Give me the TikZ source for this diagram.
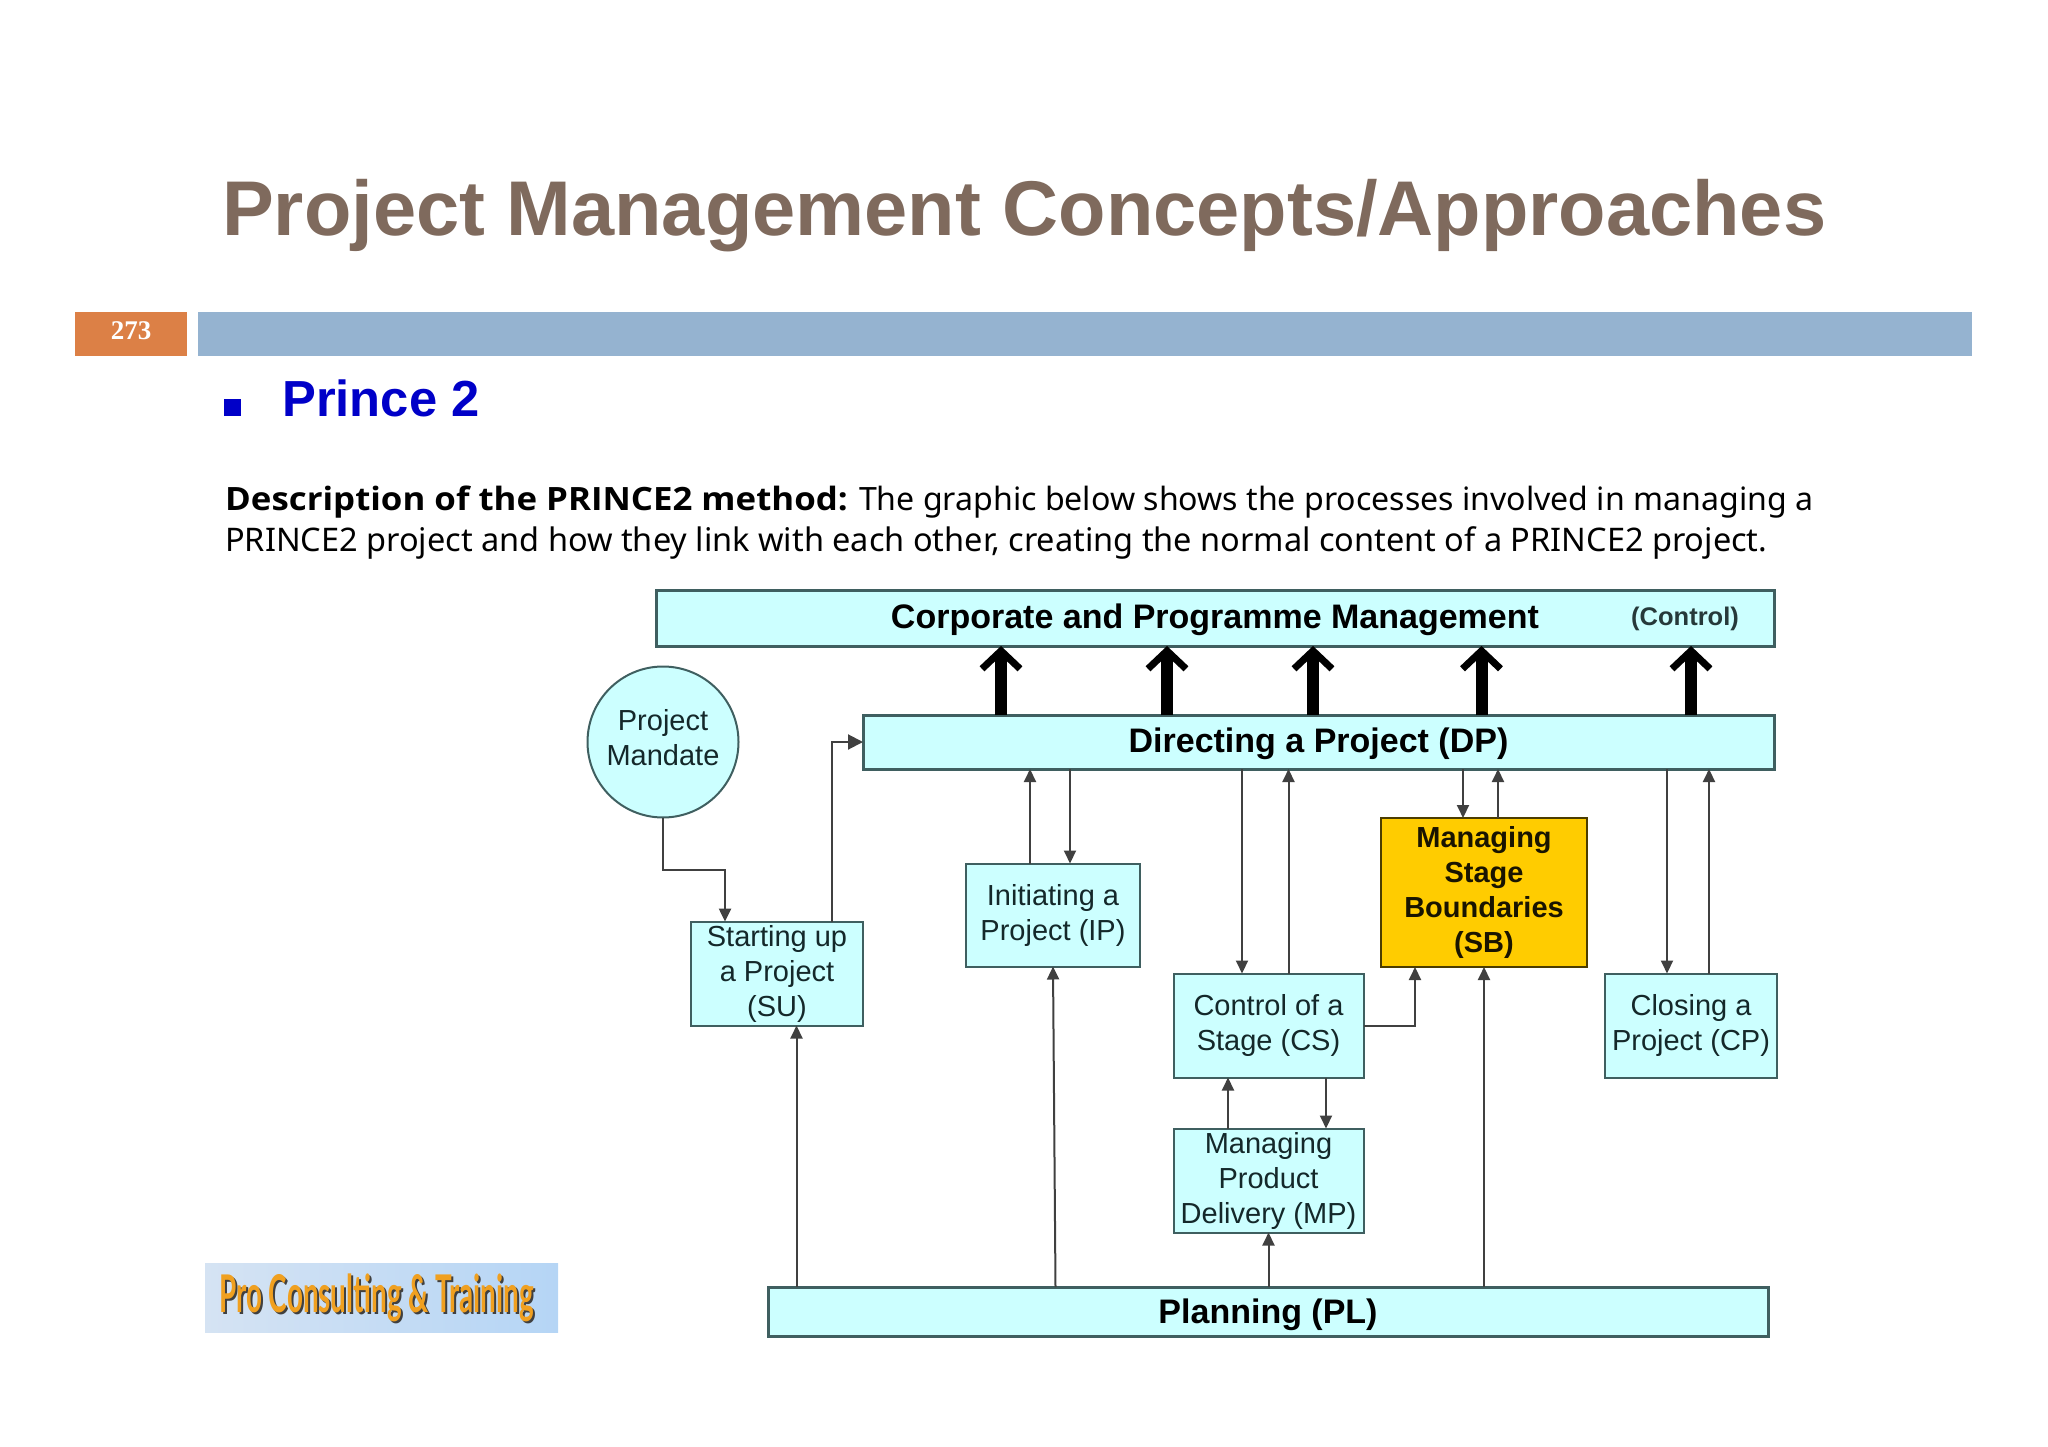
\documentclass[tikz,border=0pt]{standalone}
\usepackage{fontspec}
\setmainfont{Liberation Sans}
\newfontfamily\bodyfont{Noto Sans}
\newfontfamily\bodybold[FakeStretch=1.085]{Open Sans}
\newfontfamily\pagefont{Liberation Serif}
\newfontfamily\logofont[FakeStretch=0.535]{Lato}
\usetikzlibrary{arrows.meta}
\definecolor{boxcyan}{HTML}{CCFFFF}
\definecolor{boxline}{HTML}{3F5F60}
\definecolor{boxtext}{HTML}{14282A}
\definecolor{boxgold}{HTML}{FFCC00}
\definecolor{titlebrown}{HTML}{7F6A5D}
\definecolor{barblue}{HTML}{95B3D0}
\definecolor{barorange}{HTML}{DC8046}
\definecolor{princeblue}{HTML}{0000C8}
\definecolor{logoleft}{HTML}{D5E3F3}
\definecolor{logoright}{HTML}{B5D5F5}
\definecolor{logotextcol}{HTML}{F0A020}
\tikzset{
  box/.style={draw=boxline,fill=boxcyan,line width=2pt,inner sep=0pt,outer sep=0pt,text=boxtext,
    align=center,font=\fontsize{29}{35}\selectfont},
  bar/.style={box,line width=3pt,text=black,text height=27pt,text depth=6pt,font=\fontsize{34}{40}\selectfont\bfseries},
  link/.style={draw=black!75,line width=2pt,-{Triangle[length=13pt,width=12pt]}},
  bigarrow/.style={draw=black,line width=12pt,-{Straight Barb[length=18pt,width=38pt,line width=7pt]}}
}
\begin{document}
\begin{tikzpicture}[x=1pt,y=-1pt]
    \useasboundingbox (0,0) rectangle (2048,1447);
    % heading
    \node[anchor=base west,inner sep=0pt,text=titlebrown,font=\fontsize{77.6}{84}\selectfont\bfseries] (title) at (222,236) {Project Management Concepts/Approaches};
    \node[fill=barorange,minimum width=112pt,minimum height=44pt,inner sep=0pt,text=white,text depth=6pt,font=\fontsize{27}{30}\selectfont\pagefont\bfseries] (page) at (131,334) {273};
    \node[fill=barblue,minimum width=1774pt,minimum height=44pt,inner sep=0pt] (band) at (1085,334) {};
    \node[fill=princeblue,minimum size=17pt,inner sep=0pt] (bullet) at (232.5,407.5) {};
    \node[anchor=base west,inner sep=0pt,text=princeblue,font=\fontsize{50.7}{56}\selectfont\bfseries] (prince) at (282,416) {Prince 2};
    \node[anchor=base west,inner sep=0pt,font=\fontsize{32.1}{41}\selectfont\bodyfont] (descone) at (225,510) {{\bodybold\bfseries Description of the PRINCE2 method:} The graphic below shows the processes involved in managing a};
    \node[anchor=base west,inner sep=0pt,font=\fontsize{32.5}{41}\selectfont\bodyfont] (desctwo) at (225,551) {PRINCE2 project and how they link with each other, creating the normal content of a PRINCE2 project.};
    % logo
    \node[left color=logoleft,right color=logoright,minimum width=353pt,minimum height=69pt,inner sep=0pt] (logo) at (381.5,1297.5) {};
    \node[anchor=base west,inner sep=0pt,text=black!75,font=\fontsize{52}{56}\selectfont\logofont\bfseries] (logoshadow) at (221,1314) {Pro Consulting \& Training};
    \node[anchor=base west,inner sep=0pt,text=logotextcol,font=\fontsize{52}{56}\selectfont\logofont\bfseries] (logotext) at (219,1312) {Pro Consulting \& Training};
    % process boxes
    \node[bar,minimum width=1118pt,minimum height=56pt] (CP) at (1215,618) {Corporate and Programme Management};
    \node[font=\fontsize{25.5}{30}\selectfont\bfseries,text=boxline!60!black,inner sep=0pt] (control) at (1685,618.5) {(Control)};
    \node[bar,minimum width=911pt,minimum height=54pt] (DP) at (1318.5,742) {Directing a Project (DP)};
    \node[circle,box,minimum size=151pt,text depth=9pt] (mandate) at (663,742) {Project\\Mandate};
    \node[box,minimum width=172pt,minimum height=104pt] (SU) at (777,973.5) {Starting up\\a Project\\(SU)};
    \node[box,minimum width=174pt,minimum height=103pt] (IP) at (1053,915) {Initiating a\\Project (IP)};
    \node[box,minimum width=190pt,minimum height=104pt] (CS) at (1268.5,1025.5) {Control of a\\Stage (CS)};
    \node[box,fill=boxgold,draw=black!70!boxgold,text=black!90!boxgold,minimum width=206pt,minimum height=149pt,font=\fontsize{29}{35}\selectfont\bfseries] (SB) at (1484,892.5) {Managing\\Stage\\Boundaries\\(SB)};
    \node[box,minimum width=172pt,minimum height=104pt] (CL) at (1691,1025.5) {Closing a\\Project (CP)};
    \node[box,minimum width=190pt,minimum height=104pt] (MP) at (1268.5,1180.5) {Managing\\Product\\Delivery (MP)};
    \node[bar,minimum width=1000pt,minimum height=49pt,text height=29pt] (PL) at (1268,1311.5) {Planning (PL)};
    % heavy arrows
    \foreach \xpos in {1001,1167,1313,1481.5,1691}{
      \coordinate (up) at (\xpos,0);
      \draw[bigarrow] (DP.north -| up) -- (CP.south -| up);
    }
    % links
    \coordinate (mid) at (725,870);
    \coordinate (sutop) at (831.5,742);
    \draw[link,line width=2.5pt] (mandate.south) |- (mid) -- (SU.north -| mid);
    \draw[link,-{Triangle[length=15pt,width=15pt]}] (SU.north -| sutop) -- (sutop) -- (DP.west);
    \foreach \xdown/\xup/\lower in {1070/1030/IP,1242/1288.5/CS,1667/1709/CL}{
      \coordinate (down) at (\xdown,0);
      \coordinate (back) at (\xup,0);
      \draw[link] (DP.south -| down) -- (\lower.north -| down);
      \draw[link] (\lower.north -| back) -- (DP.south -| back);
    }
    \coordinate (sbdown) at (1463,0);
    \coordinate (sbup) at (1498,0);
    \draw[link] (DP.south -| sbdown) -- (SB.north -| sbdown);
    \draw[link] (SB.north -| sbup) -- (DP.south -| sbup);
    \coordinate (csout) at (1415,0);
    \draw[link] (CS.east) -| (SB.south -| csout);
    \coordinate (mpup) at (1228,0);
    \coordinate (mpdown) at (1326,0);
    \draw[link] (MP.north -| mpup) -- (CS.south -| mpup);
    \draw[link] (CS.south -| mpdown) -- (MP.north -| mpdown);
    \draw[link] (PL.north -| MP.south) -- (MP.south);
    \draw[link] (PL.north -| SB.south) -- (SB.south);
    \coordinate (ipup) at (1055.5,0);
    \draw[link] (PL.north -| ipup) -- (IP.south);
    \coordinate (suup) at (796.5,0);
    \draw[link] (PL.north -| suup) -- (SU.south -| suup);
\end{tikzpicture}
\end{document}
